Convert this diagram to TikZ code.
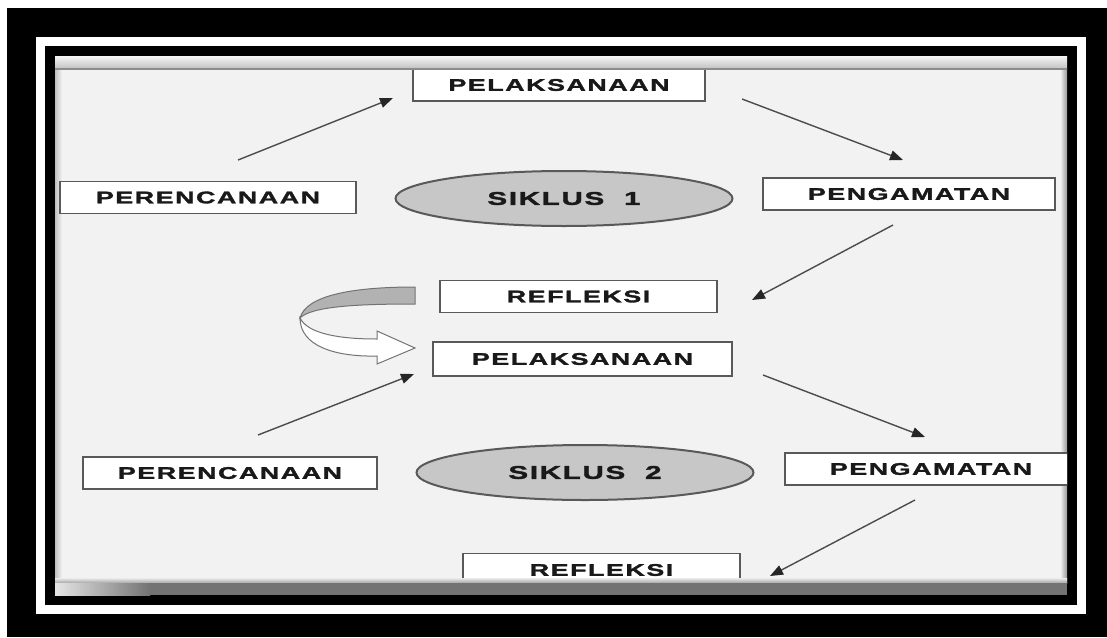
\documentclass[tikz,border=0pt]{standalone}
\usepackage{fontspec}
\usetikzlibrary{shapes.geometric,arrows.meta}
\newfontfamily\lblfont[FakeStretch=1.6,LetterSpace=9,FakeBold=1.8]{Liberation Sans}

\tikzset{
  stagebox/.style={rectangle, draw=black!65, line width=1.8pt, fill=white,
    minimum height=32pt, inner sep=0pt, text=black!90,
    font=\lblfont\bfseries\fontsize{16.8}{18}\selectfont},
  siklus/.style={ellipse, draw=black!65, line width=2pt, fill=black!22,
    minimum width=337pt, minimum height=55pt, inner sep=0pt, text=black!90,
    font=\lblfont\bfseries\fontsize{18.5}{20}\selectfont},
  flow/.style={draw=black!70, line width=1.4pt,
    -{Triangle[length=13pt,width=10pt,color=black!85]}}
}

\begin{document}
\begin{tikzpicture}[x=1pt,y=-1pt]
  \useasboundingbox (0,0) rectangle (1107,637);

  % frame
  \fill[black] (7,8) rectangle (1107,637);
  \fill[white] (36,37) rectangle (1086,614);
  \fill[black] (45,46) rectangle (1077,605);
  \fill[black!5] (55,56) rectangle (1067,595);
  \shade[left color=black!25, right color=black!5] (55,69) rectangle (62,583);
  \shade[left color=black!5, right color=black!40] (1060,69) rectangle (1067,583);

  \begin{scope}
    \clip (55,56) rectangle (1067,595);

    \begin{scope}[every node/.style={stagebox}]
      \node[minimum width=292pt] (pel1) at (559,85)    {PELAKSANAAN};
      \node[minimum width=296pt] (per1) at (208,197.5) {PERENCANAAN};
      \node[minimum width=292pt] (pen1) at (909,194)   {PENGAMATAN};
      \node[minimum width=277pt] (ref1) at (578.5,296.5) {REFLEKSI};
      \node[minimum width=299pt, minimum height=34pt] (pel2) at (582.5,359) {PELAKSANAAN};
      \node[minimum width=294pt] (per2) at (230,473)   {PERENCANAAN};
      \node[minimum width=292pt] (pen2) at (931,469)   {PENGAMATAN};
      \node[minimum width=277pt, minimum height=33pt] (ref2) at (601.5,570) {REFLEKSI};
    \end{scope}

    \begin{scope}[every node/.style={siklus}]
      \node (sik1) at (564,198.5) {SIKLUS~~1};
      \node (sik2) at (585,472.5) {SIKLUS~~2};
    \end{scope}

    % free ends of the arrows
    \coordinate (a1s) at (238,160); \coordinate (a1e) at (393,98);
    \coordinate (a2s) at (742,99);  \coordinate (a2e) at (903,160);
    \coordinate (a3s) at (893,225); \coordinate (a3e) at (752,300);
    \coordinate (a4s) at (258,435); \coordinate (a4e) at (414,374);
    \coordinate (a5s) at (763,375); \coordinate (a5e) at (925,437);
    \coordinate (a6s) at (915,500); \coordinate (a6e) at (770,576);

    \begin{scope}[every edge/.style={flow}]
      \path (a1s) edge (a1e);
      \path (a2s) edge (a2e);
      \path (a3s) edge (a3e);
      \path (a4s) edge (a4e);
      \path (a5s) edge (a5e);
      \path (a6s) edge (a6e);
    \end{scope}

    % turning ribbon arrow
    \filldraw[fill=black!30, draw=black!55, line width=1pt]
      (415,287) .. controls (350,287) and (306,296) .. (300,318)
      .. controls (312,306) and (360,304) .. (415,304) -- cycle;
    \filldraw[fill=white, draw=black!55, line width=1pt]
      (300,318) .. controls (300,346) and (335,357) .. (377,356)
      -- (377,364) -- (415,348) -- (377,331) -- (377,339)
      .. controls (340,339) and (308,334) .. (300,318) -- cycle;
  \end{scope}

  % strips
  \shade[top color=black!4, bottom color=black!25] (55,56) rectangle (1067,69);
  \draw[black!45, line width=1.2pt] (55,69) -- (1067,69);
  \shade[top color=black!8, bottom color=black!35] (55,578) rectangle (1067,583);
  \shade[left color=black!10, right color=black!55] (55,583) rectangle (150,595);
  \fill[black!55] (150,583) rectangle (1067,595);
\end{tikzpicture}
\end{document}
